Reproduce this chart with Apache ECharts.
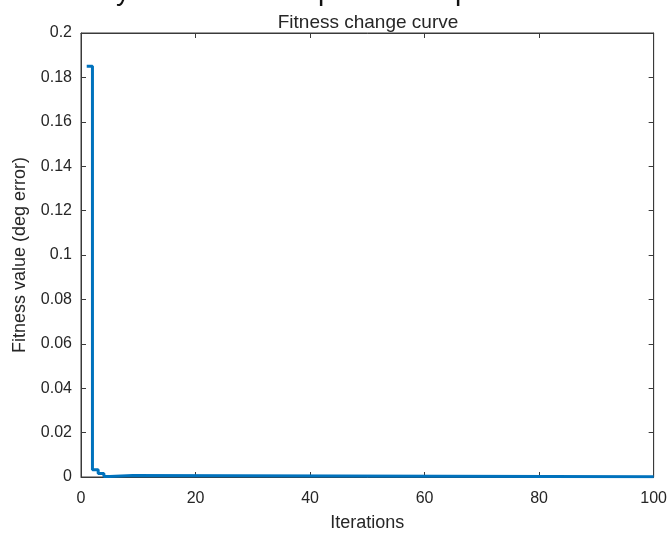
<!DOCTYPE html>
<html>
<head>
<meta charset="utf-8">
<script src="https://cdn.jsdelivr.net/npm/echarts@6/dist/echarts.min.js"></script>
<style>
  body { margin: 0; background: #fff; }
  #Graph { width: 670px; height: 537px; }
</style>
</head>
<body>
<div id="Graph"></div>
<script>
  // iteration where the best fitness changes, and the value from there on
  const iterations = [1, 2, 3, 4, 5, 9, 100];
  const fitness = [0.185, 0.0033, 0.0016, 0.0002, 0.0007, 0.0001, 0.0001];
  const xTicks = { min: 0, max: 100, interval: 20 };
  const yTicks = { min: 0, max: 0.2, interval: 0.02 };

  const textColor = '#262626';
  const axisColor = '#3a3a3a';

  let chart = echarts.init(document.getElementById('Graph'));

  let points = iterations.map(function (it, i) { return [it, fitness[i]]; });

  // top / right axes only give the box its tick marks
  let boxAxis = {
    axisLine: { show: true, onZero: false, lineStyle: { color: axisColor, width: 1 } },
    axisTick: { show: true, inside: true, length: 5, lineStyle: { color: axisColor } },
    axisLabel: { show: false },
    splitLine: { show: false }
  };

  let option = {
    animation: false,
    backgroundColor: '#fff',
    textStyle: { fontFamily: 'Liberation Sans, Arial, sans-serif' },
    title: {
      text: 'Fitness change curve',
      left: 363,
      textAlign: 'center',
      top: 8,
      textStyle: { fontSize: 19, fontWeight: 'normal', color: textColor,
                   fontFamily: 'Liberation Sans, Arial, sans-serif' }
    },
    graphic: [
      // bits of a clipped heading above the figure
      { type: 'text', left: 116, top: -22, style: { text: 'y', fill: '#111', font: '28px Liberation Sans' } },
      { type: 'text', left: 318, top: -22, style: { text: 'p', fill: '#111', font: '28px Liberation Sans' } },
      { type: 'text', left: 455, top: -22, style: { text: 'p', fill: '#111', font: '28px Liberation Sans' } }
    ],
    grid: { left: 81, right: 15, top: 33, bottom: 53, show: true,
            borderColor: axisColor, borderWidth: 1, backgroundColor: 'transparent' },
    xAxis: [
      {
        type: 'value',
        min: xTicks.min, max: xTicks.max, interval: xTicks.interval,
        name: 'Iterations',
        nameLocation: 'middle',
        nameGap: 37,
        nameTextStyle: { fontSize: 18, color: textColor },
        axisLine: { show: true, onZero: false, lineStyle: { color: axisColor, width: 1 } },
        axisTick: { show: true, inside: true, length: 5, lineStyle: { color: axisColor } },
        axisLabel: { fontSize: 16, color: textColor, margin: 14 },
        splitLine: { show: false }
      },
      Object.assign({ type: 'value', position: 'top', min: xTicks.min, max: xTicks.max, interval: xTicks.interval }, boxAxis)
    ],
    yAxis: [
      {
        type: 'value',
        min: yTicks.min, max: yTicks.max, interval: yTicks.interval,
        name: 'Fitness value (deg error)',
        nameLocation: 'middle',
        nameGap: 52,
        nameTextStyle: { fontSize: 18, color: textColor },
        axisLine: { show: true, onZero: false, lineStyle: { color: axisColor, width: 1 } },
        axisTick: { show: true, inside: true, length: 5, lineStyle: { color: axisColor } },
        axisLabel: { fontSize: 16, color: textColor, margin: 9 },
        splitLine: { show: false }
      },
      Object.assign({ type: 'value', position: 'right', min: yTicks.min, max: yTicks.max, interval: yTicks.interval }, boxAxis)
    ],
    series: [
      {
        type: 'line',
        step: 'end',
        data: points,
        showSymbol: false,
        lineStyle: { color: '#0072BD', width: 3 },
        itemStyle: { color: '#0072BD' }
      }
    ]
  };

  chart.setOption(option);
</script>
</body>
</html>
